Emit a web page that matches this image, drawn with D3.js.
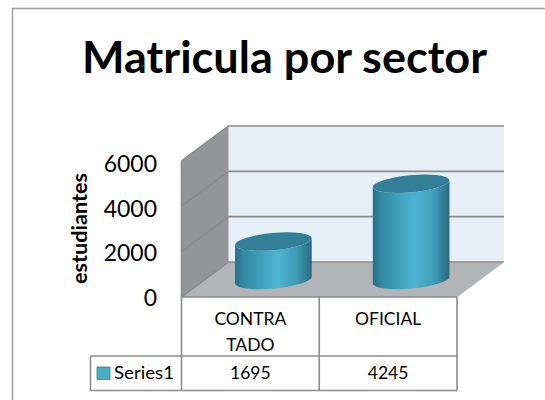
<!DOCTYPE html>
<html><head><meta charset="utf-8">
<script src="https://cdn.jsdelivr.net/npm/d3@7/dist/d3.min.js"></script>
<style>html,body{margin:0;padding:0;background:#fff}svg{display:block}text{font-family:Lato,"Open Sans",sans-serif;fill:#000}</style>
</head><body><svg width="545" height="400"></svg>
<script>
const titleText = "Matricula por sector";
const yAxisTitle = "estudiantes";
const categories = ["CONTRATADO", "OFICIAL"];
const categoryLines = [["CONTRA", "TADO"], ["OFICIAL"]];
const seriesName = "Series1";
const values = [1695, 4245];
const yTicks = [0, 2000, 4000, 6000];

const svg = d3.select("svg");
const W = { left: 181.5, right: 457, bottom: 297, top: 161, dx: 47, dy: -35 };
const grey = "#8c8c8c";

svg.append("rect").attr("x", 12.5).attr("y", 8.5).attr("width", 560).attr("height", 420)
  .attr("fill", "#fff").attr("stroke", "#a0a0a0").attr("stroke-width", 1.5);

svg.append("text").attr("x", 284.5).attr("y", 72.5).attr("text-anchor", "middle")
  .attr("font-size", 43).attr("font-weight", 700)
  .attr("textLength", 405).attr("lengthAdjust", "spacingAndGlyphs").text(titleText);

const y = d3.scaleLinear().domain([0, 6000]).range([W.bottom, W.top]);
const yLabel = d3.scaleLinear().domain([0, 6000]).range([306, 172]);
const x = d3.scaleBand().domain(categories).range([W.left, W.right]);

const defs = svg.append("defs");
const grad = defs.append("linearGradient").attr("id", "cyl");
[[0, "#2a6f86"], [0.12, "#338aa3"], [0.55, "#4db5d3"], [0.8, "#3f9db9"], [1, "#286a80"]]
  .forEach(([o, c]) => grad.append("stop").attr("offset", o).attr("stop-color", c));

const backY = v => y(v) + W.dy;
const backLeft = W.left + W.dx, clipRight = 504;
svg.append("path").attr("fill", "#b1b5b8")
  .attr("d", d3.line()([[W.left, W.bottom], [backLeft, backY(0)], [clipRight, backY(0)], [W.right, W.bottom]]) + "Z");
svg.append("rect").attr("x", backLeft).attr("y", backY(6000))
  .attr("width", clipRight - backLeft).attr("height", backY(0) - backY(6000)).attr("fill", "#e6eff6");
svg.append("path").attr("fill", "#939598")
  .attr("d", d3.line()([[W.left, y(0)], [W.left, y(6000)], [backLeft, backY(6000)], [backLeft, backY(0)]]) + "Z");
yTicks.forEach(t => {
  svg.append("path").attr("fill", "none").attr("stroke", grey).attr("stroke-width", 1.6)
    .attr("d", d3.line()([[W.left, y(t)], [backLeft, backY(t)], [clipRight, backY(t)]]));
});
svg.append("line").attr("x1", W.left).attr("x2", W.left).attr("y1", y(0)).attr("y2", y(6000))
  .attr("stroke", grey).attr("stroke-width", 1.6);
svg.append("line").attr("x1", W.right).attr("y1", W.bottom).attr("x2", clipRight).attr("y2", backY(0))
  .attr("stroke", "#c4c7c9").attr("stroke-width", 1);

const rx = 38.5, ry = 8.6, tilt = -5.2, t = tilt * Math.PI / 180;
const ex = rx * Math.cos(t), ey = rx * Math.sin(t);
const baseY = y(0) - 17;
const group = svg.selectAll(".cyl").data(values).enter().append("g").attr("class", "cyl");
group.each(function (v, i) {
  const g = d3.select(this);
  const cx = x(categories[i]) + x.bandwidth() / 2 + 23;
  const h = W.bottom - y(v);
  const topY = baseY - h;
  g.append("path").attr("fill", "url(#cyl)").attr("d",
    `M${cx - ex},${topY - ey} L${cx - ex},${baseY - ey} ` +
    `A${rx},${ry} ${tilt} 0 0 ${cx + ex},${baseY + ey} L${cx + ex},${topY + ey} ` +
    `A${rx},${ry} ${tilt} 0 1 ${cx - ex},${topY - ey} Z`);
  g.append("ellipse").attr("rx", rx).attr("ry", ry).attr("fill", "#337f98")
    .attr("transform", `translate(${cx},${topY}) rotate(${tilt})`);
});

svg.append("g").selectAll("text").data(yTicks).enter().append("text")
  .attr("x", 157).attr("y", d => yLabel(d)).attr("text-anchor", "end")
  .attr("font-size", 23).text(d => d);
svg.append("text").attr("transform", "translate(87,228.5) rotate(-90)").attr("text-anchor", "middle")
  .attr("font-size", 20).attr("font-weight", 700)
  .attr("textLength", 111).attr("lengthAdjust", "spacingAndGlyphs").text(yAxisTitle);

const tableLeft = 90.5, rowY = 356, tableBottom = 390.5;
const seg = (a, b, c, d) => svg.append("line").attr("x1", a).attr("y1", b).attr("x2", c).attr("y2", d)
  .attr("stroke", grey).attr("stroke-width", 1.6);
seg(W.left, W.bottom, W.right, W.bottom);
seg(tableLeft, rowY, W.right, rowY);
seg(tableLeft, tableBottom, W.right, tableBottom);
seg(tableLeft, rowY, tableLeft, tableBottom);
seg(W.left, W.bottom, W.left, tableBottom);
categories.forEach(c => seg(x(c) + x.bandwidth(), W.bottom, x(c) + x.bandwidth(), tableBottom));

categories.forEach((c, i) => {
  const cx = x(c) + x.bandwidth() / 2;
  categoryLines[i].forEach((ln, j) => svg.append("text").attr("x", cx).attr("y", 325 + j * 25.5)
    .attr("text-anchor", "middle").attr("font-size", 17.5).text(ln));
  svg.append("text").attr("x", cx).attr("y", 379).attr("text-anchor", "middle")
    .attr("font-size", 17.5).text(values[i]);
});
svg.append("rect").attr("x", 97).attr("y", 367).attr("width", 13).attr("height", 12.5)
  .attr("fill", "#4bacc6").attr("stroke", "#2f7f97").attr("stroke-width", 0.8);
svg.append("text").attr("x", 114).attr("y", 379).attr("font-size", 18)
  .attr("textLength", 60).attr("lengthAdjust", "spacingAndGlyphs").text(seriesName);
</script></body></html>
